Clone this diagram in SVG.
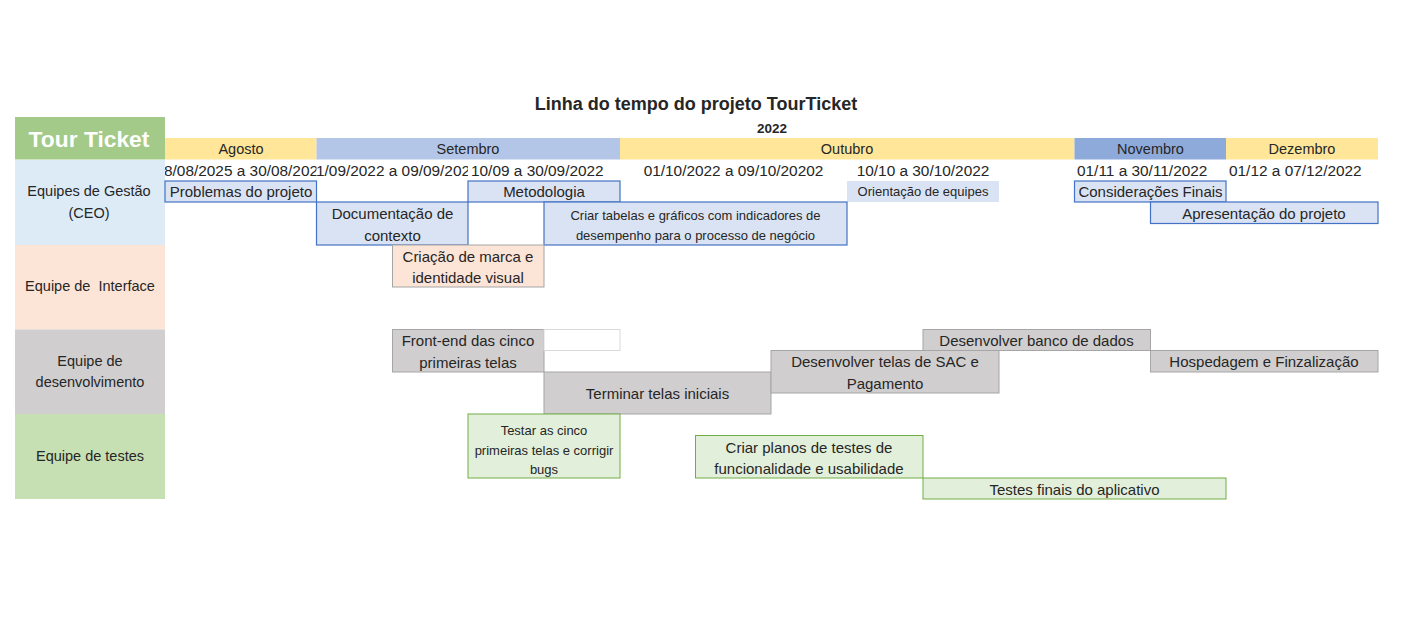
<svg xmlns="http://www.w3.org/2000/svg" width="1405" height="622" viewBox="0 0 1405 622">
<style>
text{font-family:"Liberation Sans",Arial,sans-serif;fill:#262626;text-anchor:middle;dominant-baseline:central}
.t{font-size:15px}
.s{font-size:13px}
.d{font-size:15.4px;text-anchor:start}
.dc{font-size:15.4px}
.m{font-size:14.5px}
.lab{font-size:14.5px}
.blue{fill:#dae3f3;stroke:#4472c4;stroke-width:1.2}
.gray{fill:#d0cece;stroke:#a6a6a6;stroke-width:1}
.green{fill:#e2efda;stroke:#70ad47;stroke-width:1}
.peach{fill:#fce4d6;stroke:#a6a6a6;stroke-width:1}
</style>
<defs>
<clipPath id="c1"><rect x="160" y="160" width="156.5" height="21"/></clipPath>
<clipPath id="c2"><rect x="316.5" y="160" width="151.5" height="21"/></clipPath>
</defs>
<rect width="1405" height="622" fill="#ffffff"/>

<g id="title">
<text x="696" y="104" style="font-size:18px;font-weight:bold">Linha do tempo do projeto TourTicket</text>
<text x="772" y="128" style="font-size:13.5px;font-weight:bold">2022</text>
</g>

<g id="brand">
<rect x="15" y="117" width="150" height="42.5" fill="#a3ca88"/>
<text x="89" y="138.5" style="font-size:22.8px;font-weight:bold;fill:#ffffff">Tour Ticket</text>
</g>

<g id="months">
<rect x="165" y="138" width="151.5" height="21.5" fill="#ffe699"/>
<text class="m" x="241" y="149">Agosto</text>
<rect x="316.5" y="138" width="303.5" height="21.5" fill="#b4c6e7"/>
<text class="m" x="468" y="149">Setembro</text>
<rect x="620" y="138" width="454.5" height="21.5" fill="#ffe699"/>
<text class="m" x="847" y="149">Outubro</text>
<rect x="1074.5" y="138" width="151.5" height="21.5" fill="#8eaadb"/>
<text class="m" x="1150.5" y="149">Novembro</text>
<rect x="1226" y="138" width="152" height="21.5" fill="#ffe699"/>
<text class="m" x="1302" y="149">Dezembro</text>
</g>

<g id="dates">
<text class="d" x="164" y="170.5" clip-path="url(#c1)">8/08/2025 a 30/08/202</text>
<text class="d" x="316" y="170.5" clip-path="url(#c2)">1/09/2022 a 09/09/202</text>
<text class="d" x="471" y="170.5">10/09 a 30/09/2022</text>
<text class="dc" x="733.5" y="170.5">01/10/2022 a 09/10/20202</text>
<text class="dc" x="923" y="170.5">10/10 a 30/10/2022</text>
<text class="d" x="1077" y="170.5">01/11 a 30/11/2022</text>
<text class="d" x="1229" y="170.5">01/12 a 07/12/2022</text>
</g>

<g id="team-gestao">
<rect x="15" y="160" width="150" height="85" fill="#ddebf7"/>
<text class="lab" x="89" y="191">Equipes de Gestão</text>
<text class="lab" x="89" y="213">(CEO)</text>
</g>
<g id="team-interface">
<rect x="15" y="245" width="150" height="84.5" fill="#fce4d6"/>
<text class="lab" x="90" y="286" xml:space="preserve">Equipe de  Interface</text>
</g>
<g id="team-dev">
<rect x="15" y="329.5" width="150" height="84.5" fill="#d0cece"/>
<text class="lab" x="90" y="361">Equipe de</text>
<text class="lab" x="90" y="382">desenvolvimento</text>
</g>
<g id="team-testes">
<rect x="15" y="414" width="150" height="85" fill="#c6e0b4"/>
<text class="lab" x="90" y="456">Equipe de testes</text>
</g>

<g id="task-problemas">
<rect class="blue" x="165" y="181" width="151.5" height="21"/>
<text class="t" x="241" y="191.5">Problemas do projeto</text>
</g>
<g id="task-metodologia">
<rect class="blue" x="468" y="181" width="152" height="21"/>
<text class="t" x="544" y="191.5">Metodologia</text>
</g>
<g id="task-orientacao">
<rect x="847" y="181" width="152" height="21" fill="#dae3f3"/>
<text class="s" x="923" y="191.5">Orientação de equipes</text>
</g>
<g id="task-consideracoes">
<rect class="blue" x="1074.5" y="181" width="151.5" height="21"/>
<text class="t" x="1150.5" y="191.5">Considerações Finais</text>
</g>
<g id="task-apresentacao">
<rect class="blue" x="1150.5" y="202" width="227.5" height="21.5"/>
<text class="t" x="1264" y="213">Apresentação do projeto</text>
</g>
<g id="task-documentacao">
<rect class="blue" x="316.5" y="202" width="151.5" height="43"/>
<text class="t" x="392.5" y="213">Documentação de</text>
<text class="t" x="392.5" y="235">contexto</text>
</g>
<g id="task-tabelas">
<rect class="blue" x="544" y="202" width="303" height="43"/>
<text class="s" x="695.5" y="215">Criar tabelas e gráficos com indicadores de</text>
<text class="s" x="695.5" y="235">desempenho para o processo de negócio</text>
</g>

<g id="task-marca">
<rect class="peach" x="392.5" y="245" width="151.5" height="42"/>
<text class="t" x="468" y="256">Criação de marca e</text>
<text class="t" x="468" y="277">identidade visual</text>
</g>

<g id="task-frontend">
<rect class="gray" x="392.5" y="329.5" width="151.5" height="42.5"/>
<rect x="544" y="329.5" width="76" height="21" fill="#ffffff" stroke="#d9d9d9" stroke-width="1"/>
<text class="t" x="468" y="340">Front-end das cinco</text>
<text class="t" x="468" y="362">primeiras telas</text>
</g>
<g id="task-terminar">
<rect class="gray" x="544" y="372" width="227" height="42"/>
<text class="t" x="657.5" y="393">Terminar telas iniciais</text>
</g>
<g id="task-sac">
<rect class="gray" x="771" y="350.5" width="228" height="42.5"/>
<text class="t" x="885" y="361">Desenvolver telas de SAC e</text>
<text class="t" x="885" y="383">Pagamento</text>
</g>
<g id="task-banco">
<rect class="gray" x="923" y="329.5" width="227.5" height="21"/>
<text class="t" x="1036.5" y="340">Desenvolver banco de dados</text>
</g>
<g id="task-hospedagem">
<rect class="gray" x="1150.5" y="350.5" width="227.5" height="21.5"/>
<text class="t" x="1264" y="361.5">Hospedagem e Finzalização</text>
</g>

<g id="task-testar">
<rect class="green" x="468" y="414" width="152" height="64"/>
<text class="s" x="544" y="430">Testar as cinco</text>
<text class="s" x="544" y="450">primeiras telas e corrigir</text>
<text class="s" x="544" y="469">bugs</text>
</g>
<g id="task-planos">
<rect class="green" x="695.5" y="435.5" width="227.5" height="42.5"/>
<text class="t" x="809" y="447">Criar planos de testes de</text>
<text class="t" x="809" y="468">funcionalidade e usabilidade</text>
</g>
<g id="task-finais">
<rect class="green" x="923" y="478" width="303" height="21"/>
<text class="t" x="1074.5" y="489">Testes finais do aplicativo</text>
</g>
</svg>
